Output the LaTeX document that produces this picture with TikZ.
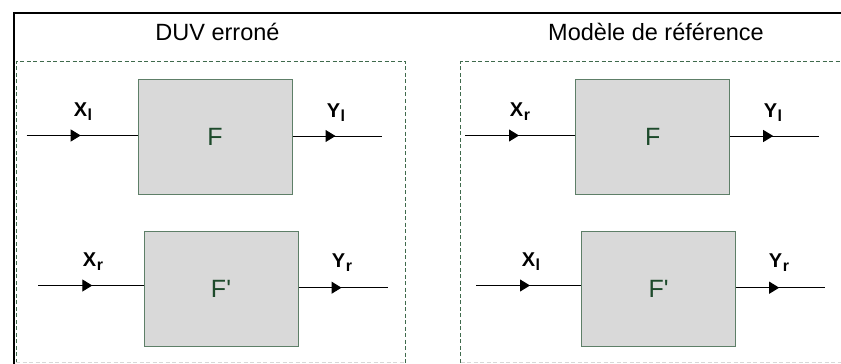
\documentclass[tikz,border=0pt]{standalone}
\usepackage{fontspec}
\setmainfont{Liberation Sans}
\usetikzlibrary{arrows.meta,decorations.markings}
\definecolor{boxfill}{HTML}{D9D9D9}
\definecolor{boxline}{HTML}{5E7F68}
\definecolor{dashgreen}{HTML}{3F6A4C}
\definecolor{dashgray}{HTML}{D8D8D8}
\definecolor{flabel}{HTML}{1D4A2B}
\tikzset{
  fbox/.style={draw=boxline, line width=1pt, fill=boxfill, minimum width=154pt, minimum height=115pt, inner sep=0pt, font=\fontsize{25}{27}\selectfont, text=flabel},
  sig/.style={font=\bfseries\fontsize{20}{22}\selectfont, inner sep=0pt},
  ttl/.style={font=\fontsize{23.5}{25}\selectfont, inner sep=0pt},
  inwire/.style={line width=1pt, postaction={decorate}, decoration={markings, mark=at position 54pt with {\arrow{Triangle[length=10pt,width=12pt]}}}},
  outwire/.style={line width=1pt, postaction={decorate}, decoration={markings, mark=at position 43pt with {\arrow{Triangle[length=10pt,width=12pt]}}}},
  frame/.style={dash pattern=on 4pt off 2.5pt, line width=0.8pt}
}
\newcommand{\sgl}[2]{#1\kern0.5pt\raisebox{-4pt}{\fontsize{16}{17}\selectfont #2}}
\begin{document}
\begin{tikzpicture}[x=1pt,y=-1pt]
\useasboundingbox (0,0) rectangle (841,364);
\fill[white] (0,0) rectangle (841,364);
% outer frame
\draw[line width=2pt] (14,364) -- (14,12.5) -- (841,12.5);
% dashed frames
\draw[frame, draw=dashgreen] (16,362.5) -- (16,61.5) -- (405.5,61.5) -- (405.5,362.5);
\draw[frame, draw=dashgray] (16,362.5) -- (405.5,362.5);
\draw[frame, draw=dashgreen] (460.5,362.5) -- (460.5,61.5) -- (841,61.5);
\draw[frame, draw=dashgray] (460.5,362.5) -- (841,362.5);
% titles
\node[ttl] (t1) at (217.5,32) {DUV erroné};
\node[ttl] (t2) at (656,32) {Modèle de référence};
% boxes
\node[fbox] (F1) at (215,137) {F};
\node[fbox] (F2) at (221,288.5) {F\textquotesingle};
\node[fbox] (F3) at (652.7,137) {F};
\node[fbox] (F4) at (658.7,288.5) {F\textquotesingle};
% wire ends
\coordinate (i1) at (26.7,135.5);
\coordinate (o1) at (382,136);
\coordinate (i2) at (38.3,285.5);
\coordinate (o2) at (387.5,287.7);
\coordinate (i3) at (465,135.5);
\coordinate (o3) at (819,136);
\coordinate (i4) at (476,285.5);
\coordinate (o4) at (825,287.7);
% wires
\draw[inwire] (i1) -- (i1 -| F1.west);
\draw[outwire] (o1 -| F1.east) -- (o1);
\draw[inwire] (i2) -- (i2 -| F2.west);
\draw[outwire] (o2 -| F2.east) -- (o2);
\draw[inwire] (i3) -- (i3 -| F3.west);
\draw[outwire] (o3 -| F3.east) -- (o3);
\draw[inwire] (i4) -- (i4 -| F4.west);
\draw[outwire] (o4 -| F4.east) -- (o4);
% labels
\node[sig] (x1) at (83,112) {\sgl{X}{l}};
\node[sig] (y1) at (336,113) {\sgl{Y}{l}};
\node[sig] (x2) at (93,262) {\sgl{X}{r}};
\node[sig] (y2) at (342,263) {\sgl{Y}{r}};
\node[sig] (x3) at (520,112) {\sgl{X}{r}};
\node[sig] (y3) at (773,113) {\sgl{Y}{l}};
\node[sig] (x4) at (531,262) {\sgl{X}{l}};
\node[sig] (y4) at (779,263) {\sgl{Y}{r}};
\end{tikzpicture}
\end{document}
